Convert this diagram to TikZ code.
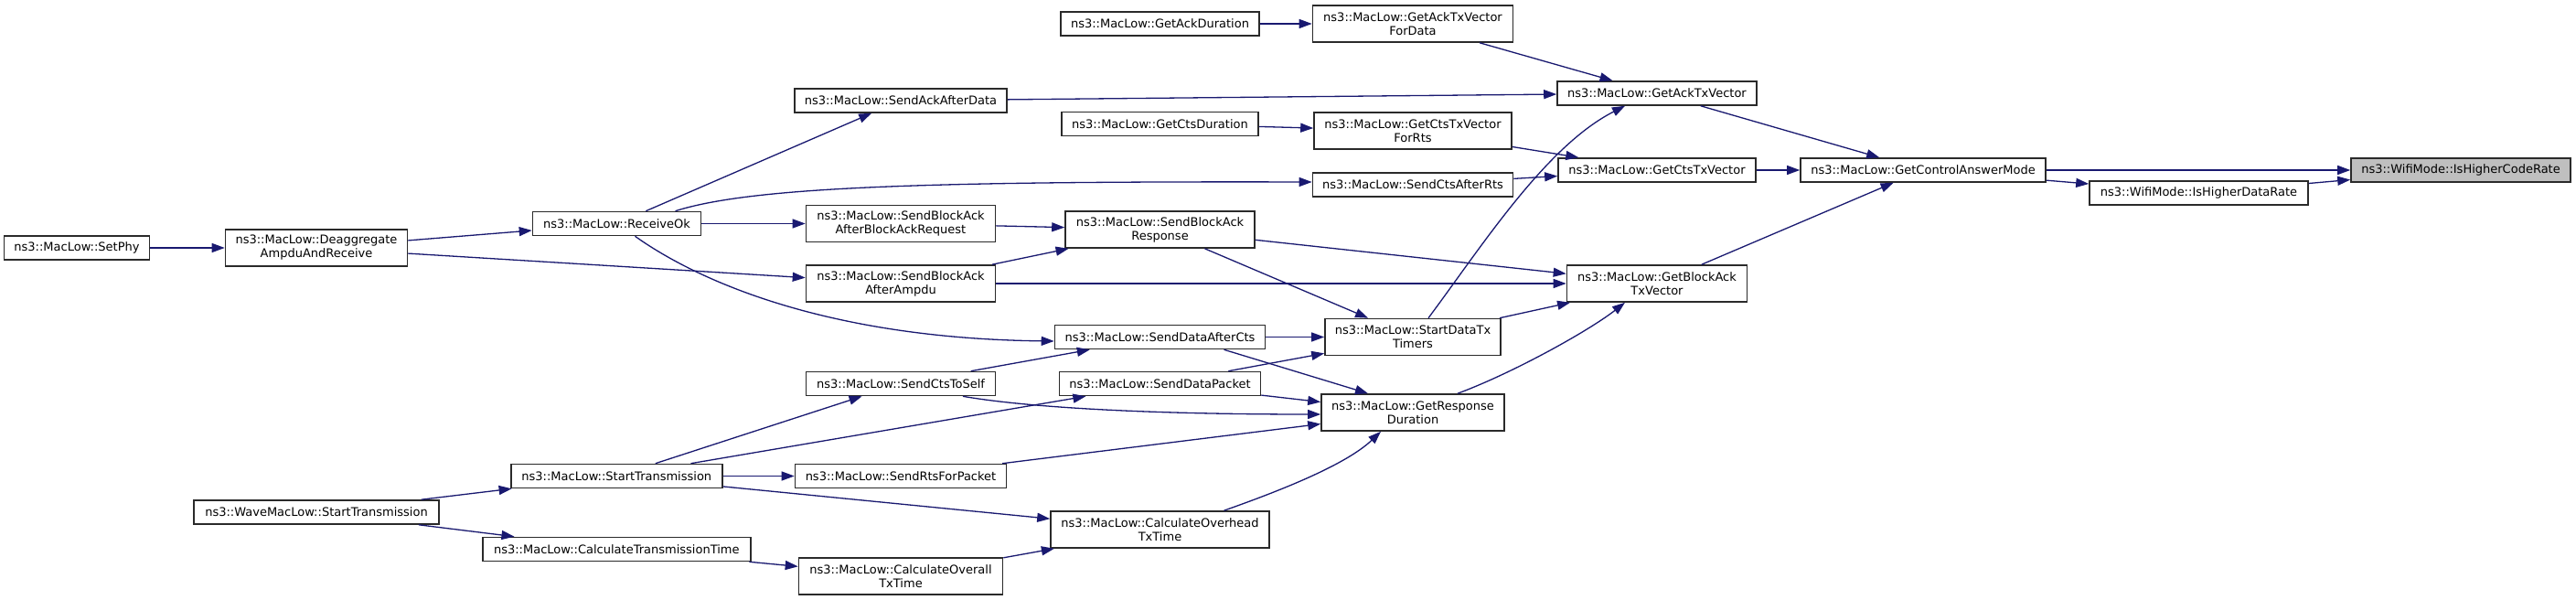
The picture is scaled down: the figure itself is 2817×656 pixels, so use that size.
\documentclass[tikz,border=0pt]{standalone}
\usepackage{fontspec}
\setmainfont{DejaVu Sans}
\usetikzlibrary{arrows.meta,calc}
\definecolor{edgecol}{HTML}{191970}
\definecolor{nodeborder}{HTML}{2A2A2A}
\definecolor{selfill}{HTML}{BFBFBF}
\tikzset{
  fn/.style={draw=nodeborder, line width=0.8pt, fill=white, inner sep=0pt, align=center,
    font=\fontsize{6.5pt}{7.5pt}\selectfont, minimum height=13pt},
  fntwo/.style={fn, minimum height=20pt},
  call/.style={draw=edgecol, line width=0.65pt, -{Triangle[length=7pt,width=5pt,fill=edgecol]}},
}
\begin{document}
\begin{tikzpicture}[x=0.5pt,y=-0.5pt]
\fill[white] (0,0) rectangle (2817,656);
\useasboundingbox (0,0) rectangle (2817,656);
% nodes
\node[fn, minimum width=79.5pt] (setphy) at (84,271) {ns3::MacLow::SetPhy};
\node[fntwo, minimum width=99.5pt] (deagg) at (346,271) {ns3::MacLow::Deaggregate\\AmpduAndReceive};
\node[fn, minimum width=134pt] (wave) at (346,560) {ns3::WaveMacLow::StartTransmission};
\node[fn, minimum width=92pt] (recv) at (674.5,244.5) {ns3::MacLow::ReceiveOk};
\node[fn, minimum width=115.5pt] (starttx) at (674.3,520.5) {ns3::MacLow::StartTransmission};
\node[fn, minimum width=146.5pt] (calctt) at (674.3,600.5) {ns3::MacLow::CalculateTransmissionTime};
\node[fn, minimum width=116pt] (sackdata) at (985,110) {ns3::MacLow::SendAckAfterData};
\node[fntwo, minimum width=103.5pt] (sbaabar) at (985,244.5) {ns3::MacLow::SendBlockAck\\AfterBlockAckRequest};
\node[fntwo, minimum width=103.5pt] (sbaampdu) at (985,310) {ns3::MacLow::SendBlockAck\\AfterAmpdu};
\node[fn, minimum width=103.5pt] (sctsself) at (985,419.5) {ns3::MacLow::SendCtsToSelf};
\node[fn, minimum width=115.5pt] (srts) at (985,520.5) {ns3::MacLow::SendRtsForPacket};
\node[fntwo, minimum width=111.5pt] (calcoverall) at (985,630) {ns3::MacLow::CalculateOverall\\TxTime};
\node[fn, minimum width=108.5pt] (getackdur) at (1268.5,26) {ns3::MacLow::GetAckDuration};
\node[fn, minimum width=107.5pt] (getctsdur) at (1268.5,135.5) {ns3::MacLow::GetCtsDuration};
\node[fntwo, minimum width=103.5pt] (sbaresp) at (1268.5,251) {ns3::MacLow::SendBlockAck\\Response};
\node[fn, minimum width=115pt] (sdataafter) at (1268.5,368.5) {ns3::MacLow::SendDataAfterCts};
\node[fn, minimum width=110pt] (sdatapkt) at (1268.5,419.5) {ns3::MacLow::SendDataPacket};
\node[fntwo, minimum width=119.5pt] (calcoverhead) at (1268.5,579) {ns3::MacLow::CalculateOverhead\\TxTime};
\node[fntwo, minimum width=109.5pt] (getacktxfd) at (1545,26) {ns3::MacLow::GetAckTxVector\\ForData};
\node[fntwo, minimum width=108pt] (getctsfr) at (1545,143) {ns3::MacLow::GetCtsTxVector\\ForRts};
\node[fn, minimum width=109.5pt] (sctsafterrts) at (1545,202) {ns3::MacLow::SendCtsAfterRts};
\node[fntwo, minimum width=96pt] (startdtx) at (1545,368.5) {ns3::MacLow::StartDataTx\\Timers};
\node[fntwo, minimum width=100pt] (getresp) at (1545,451) {ns3::MacLow::GetResponse\\Duration};
\node[fn, minimum width=109pt] (getacktx) at (1812,102) {ns3::MacLow::GetAckTxVector};
\node[fn, minimum width=108pt] (getctstx) at (1812,186) {ns3::MacLow::GetCtsTxVector};
\node[fntwo, minimum width=98.5pt] (getbatx) at (1812,310) {ns3::MacLow::GetBlockAck\\TxVector};
\node[fn, minimum width=134pt] (gcam) at (2103,186) {ns3::MacLow::GetControlAnswerMode};
\node[fn, minimum width=119.5pt] (ishdr) at (2404.5,211) {ns3::WifiMode::IsHigherDataRate};
\node[fn, fill=selfill, minimum width=120pt] (ishcr) at (2691,186) {ns3::WifiMode::IsHigherCodeRate};
% edges
\draw[call] (gcam) -- (ishcr);
\draw[call] (gcam) -- (ishdr);
\draw[call] (ishdr) -- (ishcr);
\draw[call] (getacktx) -- (gcam);
\draw[call] (getctstx) -- (gcam);
\draw[call] (getbatx) -- (gcam);
\draw[call] (getacktxfd) -- (getacktx);
\draw[call] (getackdur) -- (getacktxfd);
\draw[call] (sackdata) -- (getacktx);
\draw[call] ($(startdtx.north)+(17,0)$) .. controls (1620,270) and (1690,160) .. ($(getacktx.south)+(-35,0)$);
\draw[call] (getctsdur) -- (getctsfr);
\draw[call] (getctsfr) -- (getctstx);
\draw[call] (sctsafterrts) -- (getctstx);
\draw[call] ($(recv.north)+(64,0)$) .. controls (820,205) and (1000,198) .. ($(sctsafterrts.west)+(0,-3)$);
\draw[call] (recv) -- (sackdata);
\draw[call] (recv) -- (sbaabar);
\draw[call] ($(recv.south)+(20,0)$) .. controls (760,305) and (900,370) .. ($(sdataafter.west)+(0,4.5)$);
\draw[call] (deagg) -- (recv);
\draw[call] (deagg) -- (sbaampdu);
\draw[call] (setphy) -- (deagg);
\draw[call] (sbaabar) -- (sbaresp);
\draw[call] (sbaampdu) -- (sbaresp);
\draw[call] (sbaampdu) -- (getbatx);
\draw[call] (sbaresp) -- (getbatx);
\draw[call] (sbaresp) -- (startdtx);
\draw[call] (startdtx) -- (getbatx);
\draw[call] ($(getresp.north)+(49,0)$) .. controls (1654,408) and (1737,362) .. ($(getbatx.south)+(-35,0)$);
\draw[call] (sdataafter) -- (startdtx);
\draw[call] ($(sdataafter.south)+(70,0)$) -- ($(getresp.north)+(-49,0)$);
\draw[call] (sdatapkt) -- (startdtx);
\draw[call] (sdatapkt) -- (getresp);
\draw[call] (sctsself) -- (sdataafter);
\draw[call] ($(sctsself.south)+(68,0)$) .. controls (1120,445) and (1250,453) .. ($(getresp.west)+(0,2)$);
\draw[call] (starttx) -- (sctsself);
\draw[call] (starttx) -- (sdatapkt);
\draw[call] (starttx) -- (srts);
\draw[call] (starttx) -- (calcoverhead);
\draw[call] (srts) -- (getresp);
\draw[call] (wave) -- (starttx);
\draw[call] (wave) -- (calctt);
\draw[call] (calctt) -- (calcoverall);
\draw[call] (calcoverall) -- (calcoverhead);
\draw[call] ($(calcoverhead.north)+(70,0)$) .. controls (1390,540) and (1470,510) .. ($(getresp.south)+(-35,0)$);
\end{tikzpicture}
\end{document}
